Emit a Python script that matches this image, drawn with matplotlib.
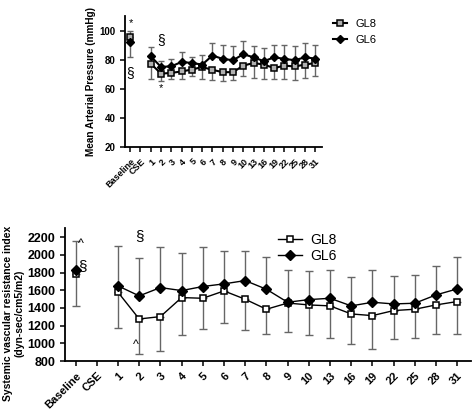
import numpy as np
import matplotlib
matplotlib.use("Agg")
import matplotlib.pyplot as plt
from matplotlib.lines import Line2D

plt.rcParams['font.family'] = ['Liberation Sans', 'DejaVu Sans']

nan = np.nan
categories = ['Baseline', 'CSE', '1', '2', '3', '4', '5', '6', '7', '8', '9',
              '10', '13', '16', '19', '22', '25', '28', '31']

# Mean arterial pressure (mmHg)
map_gl6 = [92.5, nan, 82.4, 75.1, 75.5, 78.5, 77.8, 76.7, 82.9, 80.6, 79.7,
           83.8, 81.7, 79.0, 81.7, 80.6, 79.7, 81.7, 80.8]
map_gl6_hi = [100.0, nan, 88.8, 79.0, 80.6, 85.2, 81.7, 83.0, 91.6, 90.4, 89.3,
              92.7, 89.7, 88.2, 90.4, 90.4, 89.3, 91.6, 90.4]
map_gl8 = [95.9, nan, 77.4, 70.5, 71.0, 72.0, 73.3, 75.0, 73.1, 71.5, 71.5,
           76.0, 77.8, 76.7, 74.3, 76.0, 75.4, 76.7, 77.8]
map_gl8_lo = [82.2, nan, 67.0, 65.3, 66.5, 66.5, 68.7, 67.0, 66.0, 65.3, 65.8,
              69.2, 67.6, 66.5, 66.5, 66.5, 65.8, 67.6, 68.7]

# Systemic vascular resistance index (dyn-sec/cm5/m2)
svri_gl6 = [1823, nan, 1649, 1536, 1630, 1596, 1642, 1672, 1709, 1611, 1464,
            1494, 1509, 1423, 1464, 1445, 1453, 1547, 1615]
svri_gl6_hi = [2151, nan, 2102, 1962, 2087, 2026, 2094, 2045, 2049, 1981, 1823,
               1819, 1830, 1751, 1830, 1766, 1777, 1879, 1970]
svri_gl8 = [1781, nan, 1577, 1275, 1302, 1517, 1509, 1592, 1498, 1385, 1455,
            1434, 1423, 1332, 1313, 1370, 1385, 1434, 1472]
svri_gl8_lo = [1426, nan, 1170, 879, 917, 1094, 1158, 1226, 1147, 1102, 1132,
               1091, 1064, 992, 932, 1045, 1064, 1102, 1109]

fig = plt.figure(figsize=(4.72, 4.12), dpi=100)
x = np.arange(len(categories))
ecol = '#666666'


def draw(ax, g8, g8lo, g6, g6hi, sqfill, ms8, ms6, lw, tick_fs, xfs, cap):
    g8 = np.array(g8, float); g8lo = np.array(g8lo, float)
    g6 = np.array(g6, float); g6hi = np.array(g6hi, float)
    ax.errorbar(x, g8, yerr=[g8 - g8lo, np.zeros_like(g8)], fmt='none',
                ecolor=ecol, elinewidth=1.0, capsize=cap, capthick=1.0, zorder=2)
    ax.errorbar(x, g6, yerr=[np.zeros_like(g6), g6hi - g6], fmt='none',
                ecolor=ecol, elinewidth=1.0, capsize=cap, capthick=1.0, zorder=2)
    ax.plot(x, g8, color='black', lw=lw, marker='s', ms=ms8, mfc=sqfill,
            mec='black', mew=1.1, zorder=3)
    ax.plot(x, g6, color='black', lw=lw, marker='D', ms=ms6, mfc='black',
            mec='black', zorder=4)
    for s in ['top', 'right']:
        ax.spines[s].set_visible(False)
    for s in ['left', 'bottom']:
        ax.spines[s].set_linewidth(1.3)
    ax.set_xticks(x)
    ax.set_xticklabels(categories, rotation=45, ha='right',
                       rotation_mode='anchor', fontsize=xfs, fontweight='bold')
    ax.tick_params(axis='both', direction='out', width=1.1, length=3.5)
    ax.tick_params(axis='y', labelsize=tick_fs)
    ax.set_xlim(-0.5, 18.65)


# Top chart
ax1 = fig.add_axes([125/472, 1-147.3/412, (322-125)/472, (147.3-16)/412])
draw(ax1, map_gl8, map_gl8_lo, map_gl6, map_gl6_hi, '#b0b0b0', 4, 4, 1.5, 7, 6.5, 2.5)
ax1.set_ylim(20, 110)
ax1.set_yticks([20, 40, 60, 80, 100])
for t in ax1.get_yticklabels():
    t.set_fontweight('bold')
ax1.set_ylabel('Mean Arterial Pressure (mmHg)', fontsize=7.2, fontweight='bold',
               labelpad=2)
ax1.text(0.1, 105, '*', ha='center', va='center', fontsize=8)
ax1.text(0.0, 71, '§', ha='center', va='center', fontsize=10)
ax1.text(3.0, 93.5, '§', ha='center', va='center', fontsize=10)
ax1.text(3.0, 60.5, '*', ha='center', va='center', fontsize=8)

h8 = Line2D([], [], color='black', lw=1.5, marker='s', ms=4, mfc='#b0b0b0',
            mec='black', mew=1.1)
h6 = Line2D([], [], color='black', lw=1.5, marker='D', ms=4, mfc='black')
fig.legend([h8, h6], ['GL8', 'GL6'], loc='center left',
           bbox_to_anchor=(333/472, 1-32/412), frameon=False, fontsize=8,
           handlelength=1.3, handletextpad=0.7, labelspacing=0.6, borderpad=0,
           borderaxespad=0)

# Bottom chart
ax2 = fig.add_axes([65/472, 1-361/412, (471-65)/472, (361-228.3)/412])
draw(ax2, svri_gl8, svri_gl8_lo, svri_gl6, svri_gl6_hi, 'white', 5, 5.5, 1.0, 9, 8, 3)
ax2.set_ylim(800, 2300)
ax2.set_yticks(np.arange(800, 2201, 200))
for t in ax2.get_yticklabels():
    t.set_fontweight('bold')
ax2.set_ylabel('Systemic vascular resistance index\n(dyn-sec/cm5/m2)',
               fontsize=7.5, fontweight='bold')
ax2.yaxis.set_label_coords(-0.1, 0.36)
ax2.text(0.27, 2120, '^', ha='center', va='center', fontsize=9)
ax2.text(0.3, 1870, '§', ha='center', va='center', fontsize=11)
ax2.text(3.0, 2215, '§', ha='center', va='center', fontsize=11)
ax2.text(2.85, 985, '^', ha='center', va='center', fontsize=9)

b8 = Line2D([], [], color='black', lw=1.0, marker='s', ms=5, mfc='white',
            mec='black', mew=1.1)
b6 = Line2D([], [], color='black', lw=1.0, marker='D', ms=5.5, mfc='black')
ax2.legend([b8, b6], ['GL8', 'GL6'], loc='center left',
           bbox_to_anchor=(278/472, 1-248/412), bbox_transform=fig.transFigure,
           frameon=False, fontsize=10, handlelength=1.7, handletextpad=0.6,
           labelspacing=0.15, borderpad=0, borderaxespad=0)

fig.savefig('out.png', dpi=100)
